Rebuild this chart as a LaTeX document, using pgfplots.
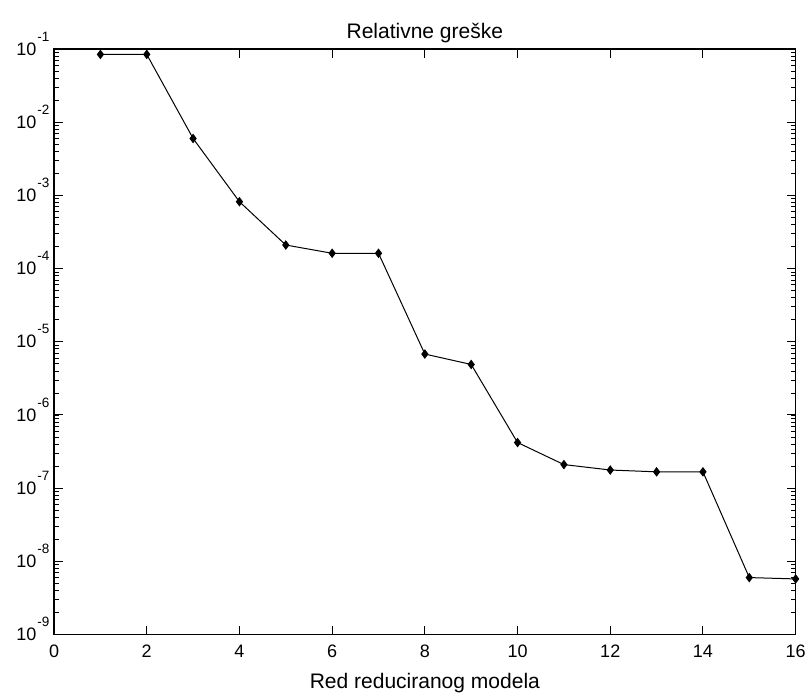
\documentclass[border=0pt]{standalone}
\usepackage{fontspec}
\setmainfont{Liberation Sans}
\usepackage{pgfplots}
\pgfplotsset{compat=1.18}

% MATLAB-style log label: small exponent raised above the "10"
\newcommand{\dec}[1]{10\kern1pt\raisebox{14pt}[0pt][0pt]{\fontsize{13.5}{15}\selectfont #1}}

\begin{document}
\begin{tikzpicture}
\begin{axis}[
    scale only axis,
    width=741pt,
    height=585pt,
    xmin=0, xmax=16,
    ymin=1e-9, ymax=1e-1,
    ymode=log,
    xtick={0,2,...,16},
    ytick={1e-9,1e-8,1e-7,1e-6,1e-5,1e-4,1e-3,1e-2,1e-1},
    yticklabels={\dec{-9},\dec{-8},\dec{-7},\dec{-6},\dec{-5},\dec{-4},\dec{-3},\dec{-2},\dec{-1}},
    /pgf/number format/assume math mode=true,
    tick align=inside,
    tick pos=both,
    major tick length=9pt,
    minor tick length=5pt,
    every tick/.append style={black, line width=1pt},
    every major tick/.append style={black, line width=1pt},
    every minor tick/.append style={black, line width=0.8pt},
    axis line style={line width=1.2pt},
    xticklabel style={font=\fontsize{18}{21}\selectfont, yshift=-7pt},
    yticklabel style={font=\fontsize{18}{21}\selectfont, xshift=-1pt},
    title={Relativne greške},
    title style={font=\fontsize{21}{25}\selectfont, yshift=-3pt},
    xlabel={Red reduciranog modela},
    xlabel style={font=\fontsize{21}{25}\selectfont, yshift=-9pt},
]
\addplot[black, line width=1pt, mark=diamond*, mark size=4pt] coordinates {
    (1, 8.45e-2)
    (2, 8.45e-2)
    (3, 6.0e-3)
    (4, 8.2e-4)
    (5, 2.1e-4)
    (6, 1.62e-4)
    (7, 1.62e-4)
    (8, 6.8e-6)
    (9, 4.9e-6)
    (10, 4.2e-7)
    (11, 2.1e-7)
    (12, 1.77e-7)
    (13, 1.67e-7)
    (14, 1.67e-7)
    (15, 6.0e-9)
    (16, 5.75e-9)
};
\end{axis}
\path (current axis.south west) ++(-54pt,-65pt) coordinate (bbA);
\path (current axis.north east) ++(13pt,49pt) coordinate (bbB);
\path (bbA) rectangle (bbB);
\end{tikzpicture}
\end{document}
